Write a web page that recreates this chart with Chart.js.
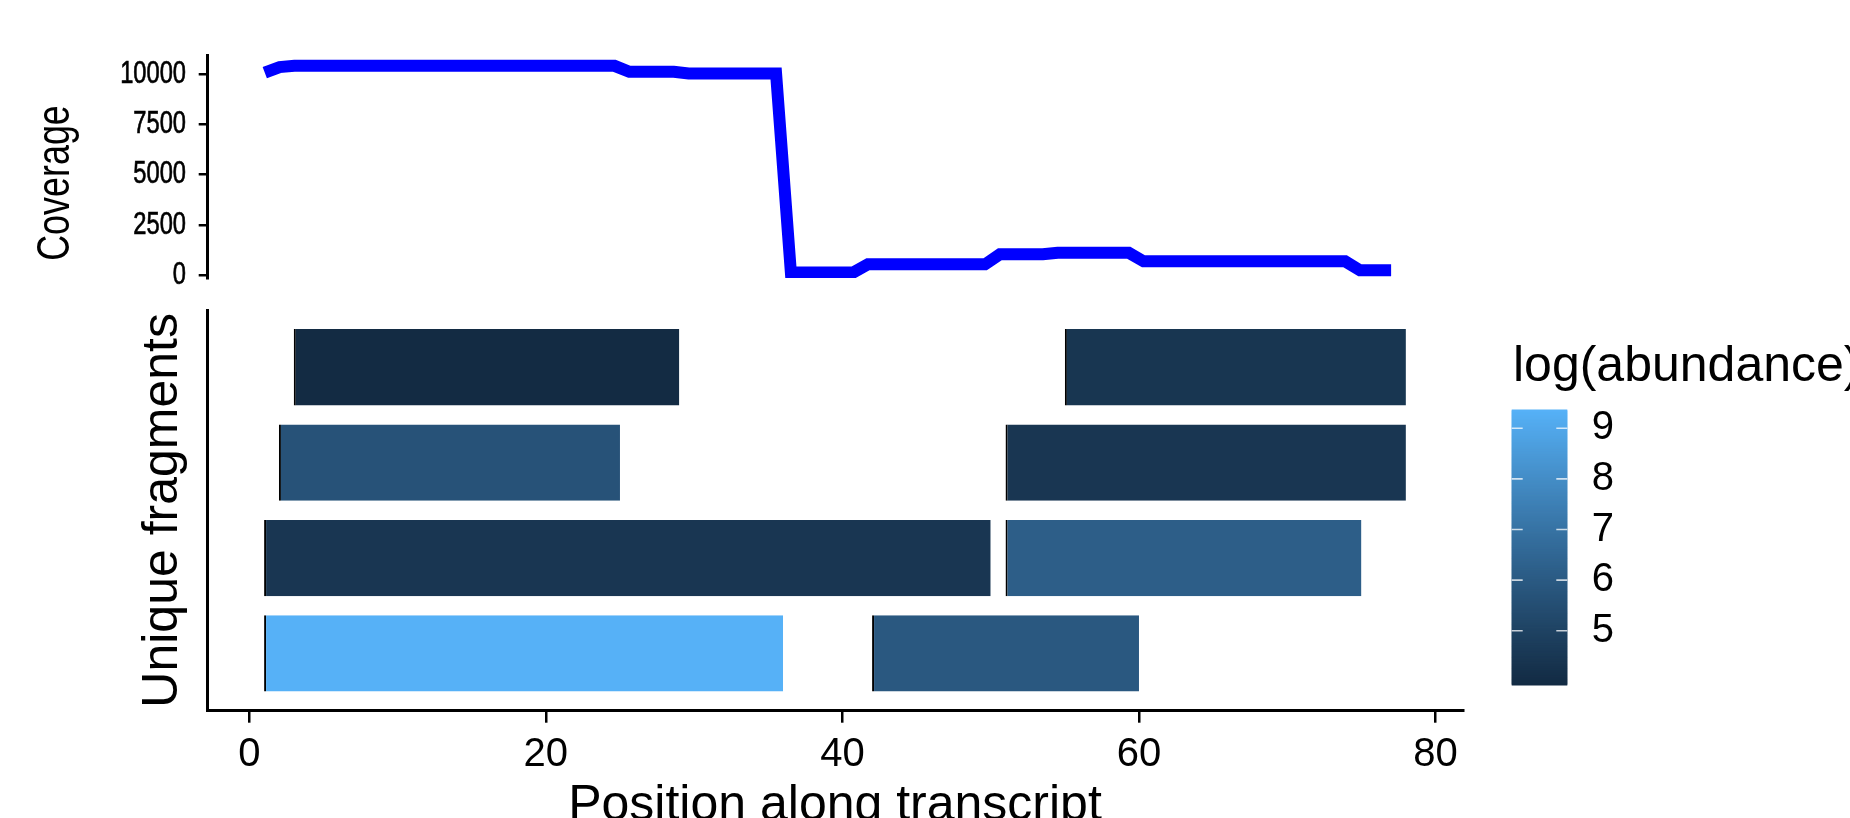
<!DOCTYPE html>
<html>
<head>
<meta charset="utf-8">
<script src="https://cdn.jsdelivr.net/npm/chart.js@4.4.1/dist/chart.umd.min.js"></script>
<style>
  html, body { margin: 0; padding: 0; background: #ffffff; width: 1850px; height: 818px; overflow: hidden; }
  canvas { position: absolute; left: 0; top: 0; }
</style>
</head>
<body>
<canvas id="coverageChart" width="1850" height="880"></canvas>
<canvas id="fragmentChart" width="1850" height="880"></canvas>
<script>
// ---- data ----
// corner points of the coverage trace (position along transcript, read coverage)
const coveragePos = [1, 2, 3, 24.6, 25.6, 28.6, 29.6, 35.5, 36.5, 40.7, 41.7, 49.6, 50.6, 53.5, 54.5, 59.3, 60.3, 73.9, 74.9, 77];
const coverage    = [10080, 10360, 10420, 10420, 10120, 10120, 10040, 10040, 120, 120, 530, 530, 1030, 1030, 1110, 1110, 680, 680, 230, 230];
const coverageTicks = [0, 2500, 5000, 7500, 10000];

// one entry per fragment; row 1 is the bottom row
const fragRows         = [1, 2, 3, 4];
const fragRow          = [4, 4, 3, 3, 2, 2, 1, 1];
const fragStart        = [3, 55, 2, 51, 1, 51, 1, 42];
const fragEnd          = [29, 78, 25, 78, 50, 75, 36, 60];
const fragLogAbundance = [3.93, 4.42, 5.66, 4.45, 4.45, 6.16, 9.36, 5.91];

const positionTicks = [0, 20, 40, 60, 80];
const legendTicks   = [5, 6, 7, 8, 9];

// ---- colour scale (gradient interpolated in CIE Lab) ----
const LOW_COLOUR = '#132B43';
const HIGH_COLOUR = '#56B1F7';

function hexToRgb(h) {
  const n = parseInt(h.slice(1), 16);
  return [(n >> 16) & 255, (n >> 8) & 255, n & 255];
}
function toLinear(c) { c /= 255; return c <= 0.04045 ? c / 12.92 : Math.pow((c + 0.055) / 1.055, 2.4); }
function fromLinear(c) {
  const v = c <= 0.0031308 ? 12.92 * c : 1.055 * Math.pow(c, 1 / 2.4) - 0.055;
  return Math.round(Math.max(0, Math.min(1, v)) * 255);
}
const WX = 0.95047, WY = 1.0, WZ = 1.08883;
function labF(t) { return t > 0.008856 ? Math.cbrt(t) : 7.787 * t + 16 / 116; }
function labFInv(t) { return t * t * t > 0.008856 ? t * t * t : (t - 16 / 116) / 7.787; }
function rgbToLab(rgb) {
  const r = toLinear(rgb[0]), g = toLinear(rgb[1]), b = toLinear(rgb[2]);
  const x = (0.4124 * r + 0.3576 * g + 0.1805 * b) / WX;
  const y = (0.2126 * r + 0.7152 * g + 0.0722 * b) / WY;
  const z = (0.0193 * r + 0.1192 * g + 0.9505 * b) / WZ;
  const fx = labF(x), fy = labF(y), fz = labF(z);
  return [116 * fy - 16, 500 * (fx - fy), 200 * (fy - fz)];
}
function labToRgb(lab) {
  const fy = (lab[0] + 16) / 116, fx = fy + lab[1] / 500, fz = fy - lab[2] / 200;
  const x = labFInv(fx) * WX, y = labFInv(fy) * WY, z = labFInv(fz) * WZ;
  const r = 3.2406 * x - 1.5372 * y - 0.4986 * z;
  const g = -0.9689 * x + 1.8758 * y + 0.0415 * z;
  const b = 0.0557 * x - 0.2040 * y + 1.0570 * z;
  return [fromLinear(r), fromLinear(g), fromLinear(b)];
}
const LAB_LO = rgbToLab(hexToRgb(LOW_COLOUR));
const LAB_HI = rgbToLab(hexToRgb(HIGH_COLOUR));
const ABUND_MIN = Math.min(...fragLogAbundance);
const ABUND_MAX = Math.max(...fragLogAbundance);
function abundanceColour(v) {
  const t = Math.max(0, Math.min(1, (v - ABUND_MIN) / (ABUND_MAX - ABUND_MIN)));
  const lab = LAB_LO.map((c, i) => c + (LAB_HI[i] - c) * t);
  const rgb = labToRgb(lab);
  return `rgb(${rgb[0]},${rgb[1]},${rgb[2]})`;
}

// ---- shared layout ----
const FONT = '"Liberation Sans", Arial, Helvetica, sans-serif';
Chart.defaults.font.family = FONT;
Chart.defaults.color = '#000000';
const X_MIN = -2.85, X_MAX = 81.85;
const PLOT_LEFT = 207.7, PLOT_RIGHT = 1463;
const CANVAS_W = 1850, CANVAS_H = 880;
const plainNumber = (v) => String(v);

// narrow lettering for the coverage panel: tick labels and rotated axis title
const coverageLettering = {
  id: 'coverageLettering',
  afterDraw(chart) {
    const ctx = chart.ctx;
    const s = chart.scales.y;
    ctx.save();
    ctx.fillStyle = '#000000';
    ctx.strokeStyle = '#000000';
    ctx.lineWidth = 0.7;
    ctx.font = `32px ${FONT}`;
    ctx.textAlign = 'right';
    ctx.textBaseline = 'middle';
    coverageTicks.forEach(v => {
      ctx.save();
      ctx.translate(186, s.getPixelForValue(v));
      ctx.scale(0.74, 1);
      ctx.fillText(plainNumber(v), 0, 0);
      ctx.strokeText(plainNumber(v), 0, 0);
      ctx.restore();
    });
    ctx.translate(56.7, 183);
    ctx.rotate(-Math.PI / 2);
    ctx.scale(0.78, 1);
    ctx.font = `46px ${FONT}`;
    ctx.textAlign = 'center';
    ctx.fillText('Coverage', 0, 0);
    ctx.restore();
  }
};

// ---- coverage panel ----
new Chart(document.getElementById('coverageChart'), {
  type: 'line',
  data: {
    datasets: [{
      data: coveragePos.map((p, i) => ({ x: p, y: coverage[i] })),
      borderColor: '#0000ff',
      borderWidth: 12,
      pointRadius: 0,
      tension: 0,
      fill: false,
      borderJoinStyle: 'miter',
      borderCapStyle: 'butt'
    }]
  },
  options: {
    responsive: false,
    animation: false,
    events: [],
    layout: { padding: { left: 0, top: 55, right: CANVAS_W - PLOT_RIGHT, bottom: CANVAS_H - 278 } },
    plugins: { legend: { display: false }, tooltip: { enabled: false } },
    scales: {
      x: { type: 'linear', display: false, min: X_MIN, max: X_MAX },
      y: {
        type: 'linear',
        min: -150,
        max: 10960,
        afterFit: (s) => { s.width = PLOT_LEFT; },
        afterBuildTicks: (ax) => { ax.ticks = coverageTicks.map(v => ({ value: v })); },
        grid: { display: true, drawOnChartArea: false, drawTicks: true, tickLength: 9, color: '#000000', lineWidth: 2.5 },
        border: { display: true, color: '#000000', width: 3 },
        ticks: { display: false },
        title: { display: false }
      }
    }
  },
  plugins: [coverageLettering]
});

// ---- colour bar legend for the fragment panel ----
const abundanceBar = {
  id: 'abundanceBar',
  afterDraw(chart) {
    const ctx = chart.ctx;
    const left = 1511.7, right = 1567.3, top = 410, bottom = 685;
    const h = bottom - top;
    const bins = 300;
    ctx.save();
    for (let i = 0; i < bins; i++) {
      const v = ABUND_MIN + (ABUND_MAX - ABUND_MIN) * (i + 0.5) / bins;
      ctx.fillStyle = abundanceColour(v);
      const y1 = bottom - h * (i + 1) / bins;
      ctx.fillRect(left, y1 - 0.5, right - left, h / bins + 1);
    }
    const yOf = (v) => bottom - (v - ABUND_MIN) / (ABUND_MAX - ABUND_MIN) * h;
    ctx.strokeStyle = 'rgba(255,255,255,0.75)';
    ctx.lineWidth = 1.6;
    legendTicks.forEach(t => {
      const y = yOf(t);
      ctx.beginPath();
      ctx.moveTo(left, y); ctx.lineTo(left + 11, y);
      ctx.moveTo(right - 11, y); ctx.lineTo(right, y);
      ctx.stroke();
    });
    ctx.fillStyle = '#000000';
    ctx.font = `40px ${FONT}`;
    ctx.textAlign = 'left';
    ctx.textBaseline = 'middle';
    legendTicks.forEach(t => ctx.fillText(String(t), 1591.7, yOf(t)));
    ctx.font = `50px ${FONT}`;
    ctx.textBaseline = 'alphabetic';
    ctx.fillText('log(abundance)', 1513, 381);
    ctx.restore();
  }
};

// ---- fragment panel ----
new Chart(document.getElementById('fragmentChart'), {
  type: 'bar',
  data: {
    datasets: [{
      data: fragRow.map((r, i) => ({ y: r, x: [fragStart[i], fragEnd[i]] })),
      backgroundColor: fragLogAbundance.map(abundanceColour),
      borderColor: '#000000',
      borderWidth: { left: 2, top: 0, right: 0, bottom: 0 },
      borderSkipped: false,
      barPercentage: 0.8,
      categoryPercentage: 1.0
    }]
  },
  options: {
    indexAxis: 'y',
    responsive: false,
    animation: false,
    events: [],
    layout: { padding: { left: 0, top: 310, right: CANVAS_W - PLOT_RIGHT, bottom: 39.5 } },
    plugins: { legend: { display: false }, tooltip: { enabled: false } },
    scales: {
      x: {
        type: 'linear',
        min: X_MIN,
        max: X_MAX,
        afterFit: (s) => { s.height = 129.8; },
        afterBuildTicks: (ax) => { ax.ticks = positionTicks.map(v => ({ value: v })); },
        grid: { display: true, drawOnChartArea: false, drawTicks: true, tickLength: 12, color: '#000000', lineWidth: 2.5 },
        border: { display: true, color: '#000000', width: 3 },
        ticks: { color: '#000000', font: { size: 40 }, padding: 8, autoSkip: false, maxRotation: 0, callback: plainNumber },
        title: { display: true, text: 'Position along transcript', color: '#000000', font: { size: 50 }, padding: { top: 0, bottom: 4 } }
      },
      y: {
        type: 'linear',
        min: 0.4,
        max: 4.6,
        offset: false,
        afterFit: (s) => { s.width = 207; },
        afterBuildTicks: (ax) => { ax.ticks = fragRows.map(v => ({ value: v })); },
        grid: { display: false, offset: false },
        border: { display: true, color: '#000000', width: 3 },
        ticks: { display: false },
        title: { display: true, text: 'Unique fragments', color: '#000000', font: { size: 50 }, padding: { top: 133.5, bottom: 0 } }
      }
    }
  },
  plugins: [abundanceBar]
});
</script>
</body>
</html>
